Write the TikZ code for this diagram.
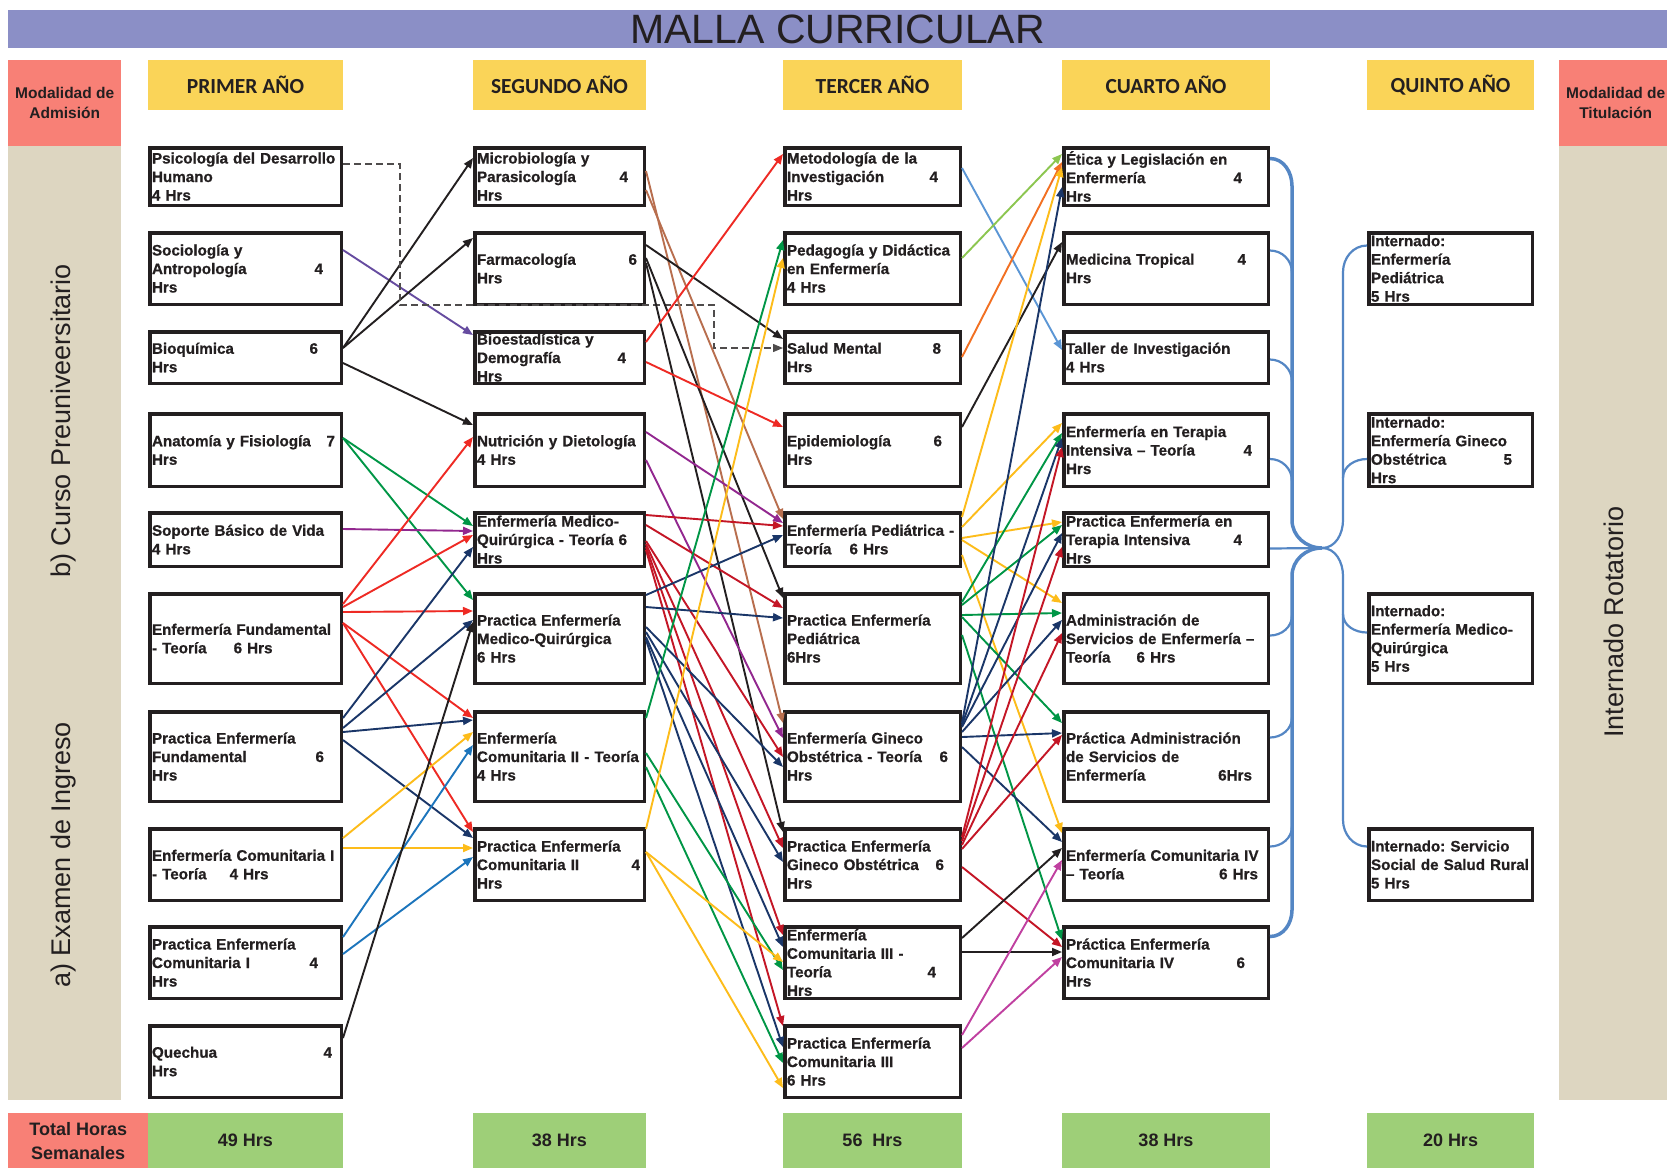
\documentclass[tikz,border=0pt]{standalone}
\usepackage{fontspec}
\setmainfont{Liberation Sans}
\newfontfamily\calibri{Carlito}
\newfontfamily\gruesa{Liberation Sans Bold}[FakeBold=0.7]
\usetikzlibrary{arrows.meta,positioning}

\definecolor{titulo}{RGB}{139,143,198}
\definecolor{salmon}{RGB}{248,128,118}
\definecolor{beige}{RGB}{221,214,193}
\definecolor{amarilloc}{RGB}{250,212,88}
\definecolor{verdec}{RGB}{158,207,120}
\definecolor{tinta}{RGB}{35,31,32}
\definecolor{llavec}{RGB}{84,134,196}
\definecolor{rojo}{RGB}{238,42,36}
\definecolor{granate}{RGB}{196,22,38}
\definecolor{marino}{RGB}{26,54,104}
\definecolor{verde}{RGB}{0,150,70}
\definecolor{oro}{RGB}{253,188,26}
\definecolor{morado}{RGB}{146,39,143}
\definecolor{violeta}{RGB}{102,76,160}
\definecolor{marron}{RGB}{184,110,78}
\definecolor{azul}{RGB}{28,117,188}
\definecolor{celeste}{RGB}{91,150,213}
\definecolor{lima}{RGB}{140,198,80}
\definecolor{naranja}{RGB}{242,112,34}
\definecolor{fucsia}{RGB}{192,64,160}

\newcommand\empuja{\hskip 0pt plus 1fill\relax}
\newcommand\hueco[1]{\rule{#1pt}{0pt}}

\begin{document}
\begin{tikzpicture}[
    x=1pt, y=-1pt,
    >={Triangle[length=10pt,width=8pt]},
    curso/.style ={
        draw=tinta,
        line width=3.5pt,
        fill=white,
        text=tinta,
        inner xsep=2pt,
        inner ysep=0pt,
        align=left,
        font=\gruesa\frenchspacing\fontsize{15.2}{18.5}\selectfont
    },
    cabecera/.style ={
        fill=amarilloc,
        text=tinta,
        minimum height=50,
        inner sep=0pt,
        font=\calibri\bfseries\fontsize{21.5}{25}\selectfont
    },
    totalhrs/.style ={
        fill=verdec,
        text=tinta,
        minimum height=55,
        inner sep=0pt,
        font=\bfseries\fontsize{18}{22}\selectfont
    },
    lateral/.style ={
        anchor=north west,
        minimum width=113,
        inner sep=0pt,
        align=center,
        text=tinta,
        font=\bfseries\fontsize{15.5}{20}\selectfont
    },
    vertical/.style ={
        rotate=90,
        text=tinta,
        font=\fontsize{27}{27}\selectfont
    },
    flecha/.style ={
        ->,
        line width=1.9pt
    },
    llave/.style ={
        draw=llavec,
        line width=2.2pt
    }
    ]
    \useasboundingbox (0,0) rectangle (1667,1168);
    \fill[white] (0,0) rectangle (1667,1168);

    % titulo y columnas laterales
    \node[fill=titulo, anchor=north west, minimum width=1659, minimum height=38, inner sep=0pt,
          text=tinta, font=\fontsize{41}{41}\selectfont] (titulo) at (8,10) {MALLA CURRICULAR};
    \node[lateral, fill=salmon, minimum height=86] (admision) at (8,60) {Modalidad de\\Admisión};
    \node[lateral, fill=beige, minimum height=954] (ingreso) at (8,146) {};
    \node[vertical] (preu) at (64,421) {b) Curso Preuniveersitario};
    \node[vertical] (examen) at (64,855) {a) Examen de Ingreso};
    \node[lateral, fill=salmon, minimum width=140, minimum height=55,
          font=\bfseries\fontsize{18}{24}\selectfont] (semanales) at (8,1113) {Total Horas\\Semanales};
    \node[lateral, fill=salmon, minimum height=86] (titulacion) at (1559,60) {Modalidad de\\Titulación};
    \node[lateral, fill=beige, minimum height=954] (rotatorio) at (1559,146) {};
    \node[vertical] (internado) at (1614,622) {Internado Rotatorio};

    \foreach \nombre/\x/\w/\txt in {{anio1/245.5/195/PRIMER AÑO}, {anio2/559.5/173/SEGUNDO AÑO},
                                    {anio3/872.5/179/TERCER AÑO}, {anio4/1166/208/CUARTO AÑO},
                                    {anio5/1450.5/167/QUINTO AÑO}}
        \node[cabecera, minimum width=\w] (\nombre) at (\x,85) {\txt};

    \foreach \nombre/\x/\w/\txt in {{total1/245.5/195/49 Hrs}, {total2/559.5/173/38 Hrs},
                                    {total3/872.5/179/56\ \ Hrs}, {total4/1166/208/38 Hrs},
                                    {total5/1450.5/167/20 Hrs}}
        \node[totalhrs, minimum width=\w] (\nombre) at (\x,1140.5) {\txt};

    % primer año
    \foreach \nombre/\y/\h/\txt in {
        {psico/176.5/61/Psicología del Desarrollo\\Humano\\4 Hrs},
        {socio/268.5/75/Sociología y\\Antropología\empuja 4\hueco{16}\\Hrs},
        {bioq/357.5/55/Bioquímica\empuja 6\hueco{21}\\Hrs},
        {anat/450/76/Anatomía y Fisiología\empuja 7\hueco{4}\\Hrs},
        {sopor/539.5/57/Soporte Básico de Vida\\4 Hrs},
        {efund/638.5/93/Enfermería Fundamental\\- Teoría\hspace{22pt} 6 Hrs},
        {pfund/756.5/93/Practica Enfermería\\Fundamental\empuja 6\hueco{15}\\Hrs},
        {ecom1/864.5/75/Enfermería Comunitaria I\\- Teoría\hspace{18pt} 4 Hrs},
        {pcom1/962.5/75/Practica Enfermería\\Comunitaria I\empuja 4\hueco{21}\\Hrs},
        {quech/1061.5/75/Quechua\empuja 4\hueco{7}\\Hrs}}
        \node[curso, minimum width=191.5, text width=187, minimum height=\h-3.5] (\nombre) at (245.5,\y) {\txt};

    % segundo año
    \foreach \nombre/\y/\h/\txt in {
        {micro/176.5/61/Microbiología y\\Parasicología\empuja 4\hueco{14}\\Hrs},
        {farma/268.5/75/Farmacología\empuja 6\hueco{5}\\Hrs},
        {bioest/357.5/55/Bioestadística y\\Demografía\empuja 4\hueco{16}\\Hrs},
        {nutri/450/76/Nutrición y Dietología\\4 Hrs},
        {emqt/539.5/57/Enfermería Medico-\\Quirúrgica - Teoría 6\\Hrs},
        {pmq/638.5/93/Practica Enfermería\\Medico-Quirúrgica\\6 Hrs},
        {ecom2/756.5/93/Enfermería\\Comunitaria II - Teoría\\4 Hrs},
        {pcom2/864.5/75/Practica Enfermería\\Comunitaria II\empuja 4\hueco{2}\\Hrs}}
        \node[curso, minimum width=169.5, text width=165, minimum height=\h-3.5] (\nombre) at (559.5,\y) {\txt};

    % tercer año
    \foreach \nombre/\y/\h/\txt in {
        {metod/176.5/61/Metodología de la\\Investigación\empuja 4\hueco{20}\\Hrs},
        {pedag/268.5/75/Pedagogía y Didáctica\\en Enfermería\\4 Hrs},
        {salud/357.5/55/Salud Mental\empuja 8\hueco{17}\\Hrs},
        {epid/450/76/Epidemiología\empuja 6\hueco{16}\\Hrs},
        {epedt/539.5/57/Enfermería Pediátrica -\\Teoría\hspace{13pt} 6 Hrs},
        {pped/638.5/93/Practica Enfermería\\Pediátrica\\6Hrs},
        {egin/756.5/93/Enfermería Gineco\\Obstétrica - Teoría\empuja 6\hueco{10}\\Hrs},
        {pgin/864.5/75/Practica Enfermería\\Gineco Obstétrica\empuja 6\hueco{14}\\Hrs},
        {ecom3/962.5/75/Enfermería\\Comunitaria III -\\Teoría\empuja 4\hueco{22}\\Hrs},
        {pcom3/1061.5/75/Practica Enfermería\\Comunitaria III\\6 Hrs}}
        \node[curso, minimum width=175.5, text width=171, minimum height=\h-3.5] (\nombre) at (872.5,\y) {\txt};

    % cuarto año
    \foreach \nombre/\y/\h/\txt in {
        {etica/176.5/61/Ética y Legislación en\\Enfermería\empuja 4\hueco{24}\\Hrs},
        {medtrop/268.5/75/Medicina Tropical\empuja 4\hueco{20}\\Hrs},
        {taller/357.5/55/Taller de Investigación\\4 Hrs},
        {eter/450/76/Enfermería en Terapia\\Intensiva – Teoría\empuja 4\hueco{14}\\Hrs},
        {pter/539.5/57/Practica Enfermería en\\Terapia Intensiva\empuja 4\hueco{24}\\Hrs},
        {admin/638.5/93/Administración de\\Servicios de Enfermería –\\Teoría\hspace{21pt} 6 Hrs},
        {padmin/756.5/93/Práctica Administración\\de Servicios de\\Enfermería\empuja 6Hrs\hueco{14}},
        {ecom4/864.5/75/Enfermería Comunitaria IV\\– Teoría\empuja 6 Hrs\hueco{8}},
        {pcom4/962.5/75/Práctica Enfermería\\Comunitaria IV\empuja 6\hueco{21}\\Hrs}}
        \node[curso, minimum width=204.5, text width=200, minimum height=\h-3.5] (\nombre) at (1166,\y) {\txt};

    % quinto año
    \foreach \nombre/\y/\h/\txt in {
        {intped/268.5/75/Internado:\\Enfermería\\Pediátrica\\5 Hrs},
        {intgin/450/76/Internado:\\Enfermería Gineco\\Obstétrica\empuja 5\hueco{18}\\Hrs},
        {intmq/638.5/93/Internado:\\Enfermería Medico-\\Quirúrgica\\5 Hrs},
        {intrur/864.5/75/Internado: Servicio\\Social de Salud Rural\\5 Hrs}}
        \node[curso, minimum width=163.5, text width=159, minimum height=\h-3.5] (\nombre) at (1450.5,\y) {\txt};

    % requisitos: primer -> segundo año
    \foreach \src/\ys/\dst/\yd/\tono in {socio/19/bioest/5/violeta, bioq/18/micro/12/tinta, bioq/18/farma/7/tinta,
                                         bioq/33/nutri/13/tinta, anat/26/emqt/15/verde, anat/26/pmq/8/verde,
                                         sopor/18/emqt/20/morado, efund/12/nutri/25/rojo, efund/15/emqt/24/rojo,
                                         efund/20/pmq/19/rojo, efund/31/ecom2/8/rojo, efund/31/pcom2/5/rojo,
                                         pfund/8/emqt/36/marino, pfund/18/pmq/28/marino, pfund/22/ecom2/10/marino,
                                         pfund/30/pcom2/11/marino, ecom1/11/ecom2/22/oro, ecom1/21/pcom2/21/oro,
                                         pcom1/12/ecom2/35/azul, pcom1/29/pcom2/30/azul, quech/14/pmq/30/tinta}
        \draw[flecha,\tono] ([yshift=-\ys]\src.north east) -- ([yshift=-\yd]\dst.north west);

    \coordinate (codo1) at (400,305);
    \coordinate (codo2) at (714,305);
    \draw[flecha, tinta!80, line width=1.3pt, dash pattern=on 7pt off 4pt]
        ([yshift=-18]psico.north east) -| (codo1) -- (codo2) |- ([yshift=-18]salud.north west);

    % segundo -> tercer año
    \foreach \src/\ys/\dst/\yd/\tono in {micro/25/egin/13/marron, micro/44/epedt/8/marron, farma/14/salud/9/tinta,
                                         farma/27/pped/6/tinta, farma/32/pgin/5/tinta, bioest/12/metod/8/rojo,
                                         bioest/32/epid/15/rojo, nutri/20/epedt/12/morado, nutri/48/egin/28/morado,
                                         emqt/4/epedt/15/granate, emqt/14/pped/16/granate, emqt/30/egin/47/granate,
                                         emqt/33/pgin/21/granate, emqt/36/ecom3/10/granate, emqt/39/pcom3/2/granate,
                                         pmq/3/epedt/24/marino, pmq/15/pped/26/marino, pmq/35/egin/57/marino,
                                         pmq/40/pgin/35/marino, pmq/45/ecom3/22/marino, pmq/48/pcom3/23/marino,
                                         ecom2/8/pedag/9/verde, ecom2/43/ecom3/45/verde, ecom2/57/pcom3/39/verde,
                                         pcom2/2/pedag/27/oro, pcom2/25/ecom3/37/oro, pcom2/25/pcom3/64/oro}
        \draw[flecha,\tono] ([yshift=-\ys]\src.north east) -- ([yshift=-\yd]\dst.north west);

    % tercer -> cuarto año
    \foreach \src/\ys/\dst/\yd/\tono in {metod/22/taller/20/celeste, pedag/27/etica/8/lima, salud/27/etica/16/naranja,
                                         epid/15/medtrop/11/tinta, epedt/6/etica/21/oro, epedt/16/eter/11/oro,
                                         epedt/27/pter/11/oro, epedt/29/admin/11/oro, epedt/44/ecom4/6/oro,
                                         pped/10/eter/21/verde, pped/13/pter/14/verde, pped/23/admin/21/verde,
                                         pped/25/padmin/13/verde, pped/43/pcom4/15/verde,
                                         egin/13/etica/41/marino, egin/15/eter/26/marino, egin/17/pter/22/marino,
                                         egin/22/admin/28/marino, egin/27/padmin/23/marino, egin/37/ecom4/15/marino,
                                         pgin/10/eter/35/granate, pgin/14/pter/36/granate, pgin/18/admin/41/granate,
                                         pgin/22/padmin/25/granate, pgin/40/pcom4/22/granate,
                                         ecom3/13/ecom4/21/tinta, ecom3/27/pcom4/27/tinta,
                                         pcom3/11/ecom4/33/fucsia, pcom3/24/pcom4/32/fucsia}
        \draw[flecha,\tono] ([yshift=-\ys]\src.north east) -- ([yshift=-\yd]\dst.north west);

    % llave hacia el internado rotatorio
    \coordinate (union) at (1322,548);
    \draw[llave, line width=3.5pt] ([yshift=18]etica.east) to[out=0,in=90] (1292,186) -- (1292,520)
        to[out=270,in=180] (union);
    \draw[llave, line width=3.5pt] (union) to[out=180,in=90] (1292,576) -- (1292,910)
        to[out=270,in=0] ([yshift=26]pcom4.east);
    \foreach \n/\d in {medtrop/18, taller/-2, eter/-9}
        \draw[llave] ([yshift=\d]\n.east) to[out=0,in=90] ++(22,22);
    \foreach \n/\d in {admin/3, padmin/19, ecom4/18}
        \draw[llave] ([yshift=\d]\n.east) to[out=0,in=270] ++(22,-20);
    \draw[llave] ([yshift=-9]pter.east) -- (union);
    \draw[llave] (union) to[out=0,in=270] (1343,520) -- (1343,272) to[out=90,in=180] ([yshift=23]intped.west);
    \draw[llave] (union) to[out=0,in=90] (1343,576) -- (1343,820) to[out=270,in=180] ([yshift=18]intrur.west);
    \draw[llave] (1343,478) to[out=90,in=180] ([yshift=-9]intgin.west);
    \draw[llave] (1343,614) to[out=270,in=180] ([yshift=6]intmq.west);
\end{tikzpicture}
\end{document}
